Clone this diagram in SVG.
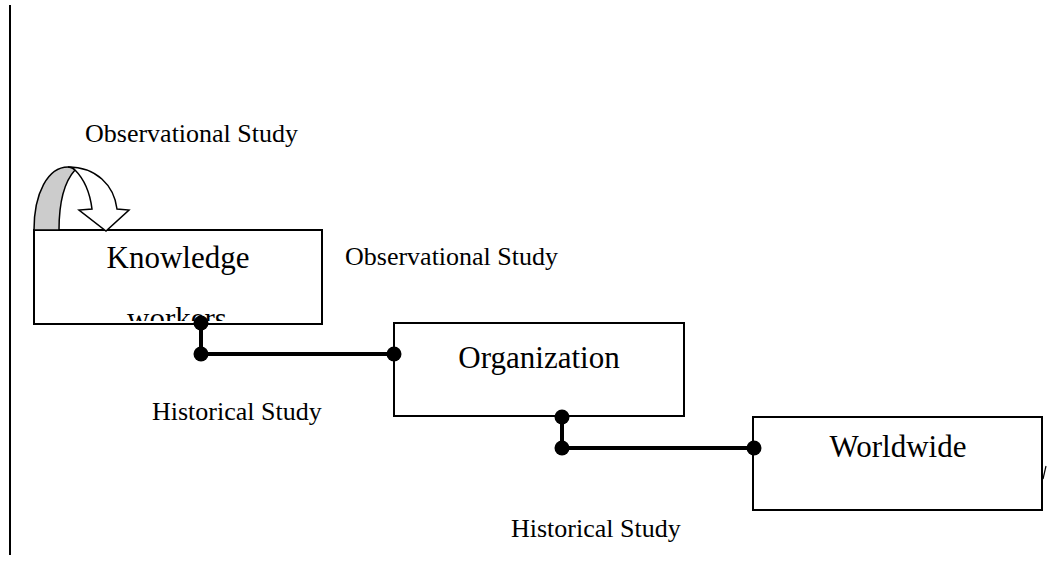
<svg xmlns="http://www.w3.org/2000/svg" width="1059" height="566" viewBox="0 0 1059 566">
<style>
.box{fill:#fff;stroke:#000;stroke-width:2}
.big{font-family:"Liberation Serif","Times New Roman",serif;font-size:31px;fill:#000;text-anchor:middle}
.lbl{font-family:"Liberation Serif","Times New Roman",serif;font-size:26px;fill:#000}
.conn{fill:none;stroke:#000;stroke-width:4}
.dot{fill:#000}
</style>
<defs>
<clipPath id="kclip"><rect x="34" y="230" width="288" height="91"/></clipPath>
</defs>
<rect width="1059" height="566" fill="#fff"/>
<line x1="10" y1="5" x2="10" y2="555" stroke="#000" stroke-width="2"/>

<g id="knowledge">
<rect class="box" x="34" y="230" width="288" height="94"/>
<text class="big" x="178" y="268">Knowledge</text>
<text class="big" x="177" y="329" clip-path="url(#kclip)">workers</text>
</g>

<g id="selfloop">
<path d="M34,230 C34,193 48,167 68,167 C72,167 74,168 75,170 C65,181 59,200 59,230 Z" fill="#ccc" stroke="#000" stroke-width="1.5"/>
<path d="M68,167 C96,167 114,185 117,209 L129,210 L106,231 L79,210 L92,209 C90,193 84,179 75,170 C73,168 71,167 68,167 Z" fill="#fff" stroke="#000" stroke-width="1.5"/>
</g>

<g id="organization">
<rect class="box" x="394" y="323" width="290" height="93"/>
<text class="big" x="539" y="368">Organization</text>
</g>

<g id="worldwide">
<rect class="box" x="753" y="417" width="289" height="93"/>
<text class="big" x="898" y="457">Worldwide</text>
<path d="M1046,466 L1043,479" stroke="#000" stroke-width="1.2"/>
</g>

<g id="labels">
<text class="lbl" x="85" y="142">Observational Study</text>
<text class="lbl" x="345" y="265">Observational Study</text>
<text class="lbl" x="152" y="420">Historical Study</text>
<text class="lbl" x="511" y="537">Historical Study</text>
</g>

<g id="connectors">
<polyline class="conn" points="201,323 201,354 394,354"/>
<circle class="dot" cx="201" cy="323" r="7.5"/>
<circle class="dot" cx="201" cy="354" r="7.5"/>
<circle class="dot" cx="394" cy="354" r="7.5"/>
<polyline class="conn" points="562,417 562,448 754,448"/>
<circle class="dot" cx="562" cy="417" r="7.5"/>
<circle class="dot" cx="562" cy="448" r="7.5"/>
<circle class="dot" cx="754" cy="448" r="7.5"/>
</g>
</svg>
